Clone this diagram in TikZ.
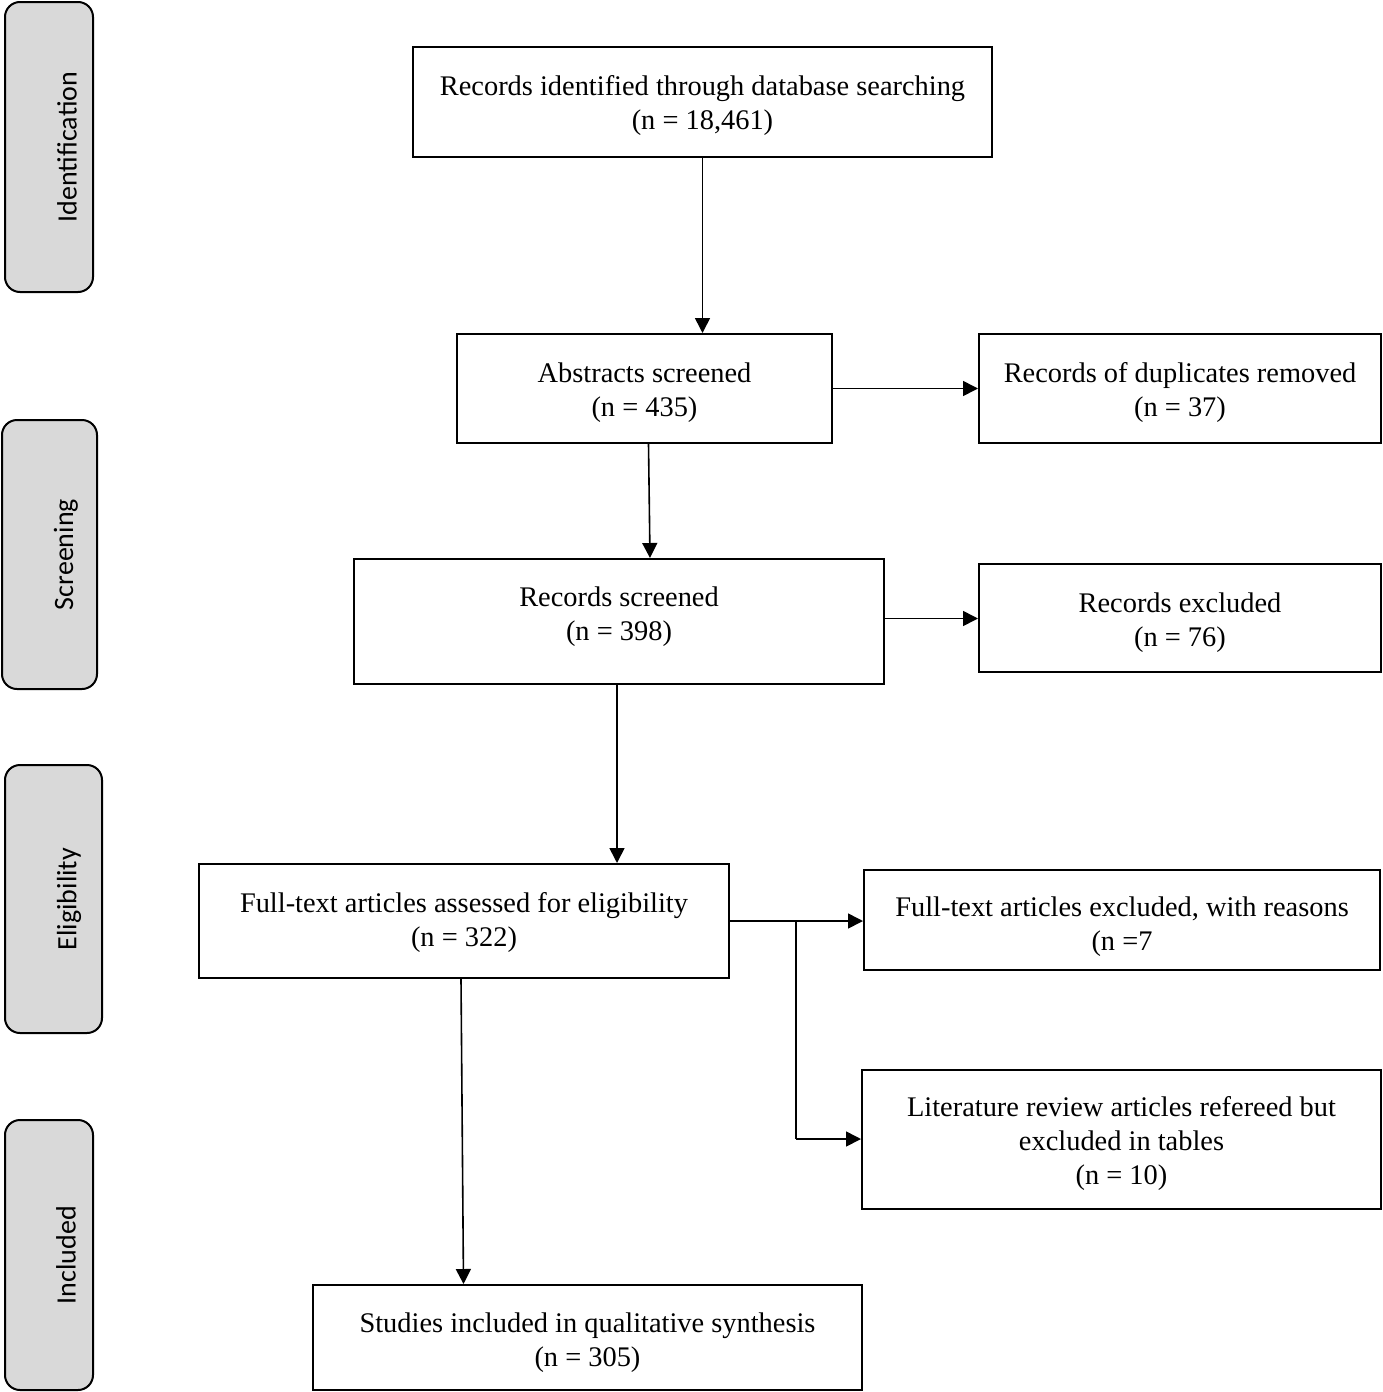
\documentclass[tikz,border=0pt]{standalone}
\usepackage{fontspec}
\setmainfont{Liberation Serif}
\newfontfamily\sidefont{Carlito}
\usetikzlibrary{arrows.meta}
\begin{document}
\begin{tikzpicture}[x=0.5pt,y=-0.5pt,
  box/.style={draw=black,line width=1pt,fill=white,inner sep=0pt},
  boxtext/.style={align=center,inner sep=0pt,font=\fontsize{14.2pt}{17pt}\selectfont},
  side/.style={draw=black,line width=1pt,fill=black!15,rounded corners=7.5pt,inner sep=0pt},
  sidetext/.style={rotate=90,font=\sidefont\fontsize{14pt}{16pt}\selectfont},
  arr/.style={line width=0.8pt,-{Triangle[length=7.5pt,width=7.5pt]}},
  ln/.style={line width=0.8pt}]
\useasboundingbox (0,0) rectangle (1382,1392);
% side phase boxes
\node[side,minimum width=88*0.5pt,minimum height=290*0.5pt] (s1) at (49,147) {};
\node[sidetext] (t1) at (67,147) {Identification};
\node[side,minimum width=95*0.5pt,minimum height=269*0.5pt] (s2) at (49.5,554.5) {};
\node[sidetext] (t2) at (66,554.5) {Screening};
\node[side,minimum width=97*0.5pt,minimum height=268*0.5pt] (s3) at (53.5,899) {};
\node[sidetext] (t3) at (69,899) {Eligibility};
\node[side,minimum width=88*0.5pt,minimum height=270*0.5pt] (s4) at (49,1255) {};
\node[sidetext] (t4) at (66,1255) {Included};
% main boxes
\node[box,minimum width=579*0.5pt,minimum height=110*0.5pt] (a) at (702.5,102) {};
\node[boxtext] (ta) at ([yshift=-2pt]a.center) {Records identified through database searching\\(n = 18,461)};
\node[box,minimum width=375*0.5pt,minimum height=109*0.5pt] (b) at (644.5,388.5) {};
\node[boxtext] (tb) at ([yshift=-2pt]b.center) {Abstracts screened\\(n = 435)};
\node[box,minimum width=402*0.5pt,minimum height=109*0.5pt] (c) at (1180,388.5) {};
\node[boxtext] (tc) at ([yshift=-2pt]c.center) {Records of duplicates removed\\(n = 37)};
\node[box,minimum width=530*0.5pt,minimum height=125*0.5pt] (d) at (619,621.5) {};
\node[boxtext] (td) at ([yshift=2.25pt]d.center) {Records screened\\(n = 398)};
\node[box,minimum width=402*0.5pt,minimum height=108*0.5pt] (e) at (1180,618) {};
\node[boxtext] (te) at ([yshift=-2.25pt]e.center) {Records excluded\\(n = 76)};
\node[box,minimum width=530*0.5pt,minimum height=114*0.5pt] (f) at (464,921) {};
\node[boxtext] (tf) at ([yshift=-0.75pt]f.center) {Full-text articles assessed for eligibility\\(n = 322)};
\node[box,minimum width=516*0.5pt,minimum height=100*0.5pt] (g) at (1122,920) {};
\node[boxtext] (tg) at ([yshift=-3.5pt]g.center) {Full-text articles excluded, with reasons\\(n =7};
\node[box,minimum width=519*0.5pt,minimum height=139*0.5pt] (h) at (1121.5,1139.5) {};
\node[boxtext] (th) at ([yshift=-2.25pt]h.center) {Literature review articles refereed but\\excluded in tables\\(n = 10)};
\node[box,minimum width=549*0.5pt,minimum height=105*0.5pt] (i) at (587.5,1337.5) {};
\node[boxtext] (ti) at ([yshift=-2.75pt]i.center) {Studies included in qualitative synthesis\\(n = 305)};
% connectors
\draw[arr] (a.south) -- (a.south |- b.north);
\draw[arr] (b.east) -- (b.east -| c.west);
\draw[arr] ([xshift=2pt]b.south) -- ([xshift=15.5pt]d.north);
\draw[arr] ([yshift=1.5pt]d.east) -- ([yshift=1.5pt]d.east -| e.west);
\draw[arr] ([xshift=-1pt]d.south) -- ([xshift=-1pt]d.south |- f.north);
\draw[arr] (f.east) -- (f.east -| g.west);
\coordinate (br) at (796,921);
\coordinate (bk) at (796,1139);
\draw[ln] (br) -- (bk);
\draw[arr] (bk) -- (bk -| h.west);
\draw[arr] ([xshift=-1.5pt]f.south) -- ([xshift=-62pt]i.north);
\end{tikzpicture}
\end{document}
